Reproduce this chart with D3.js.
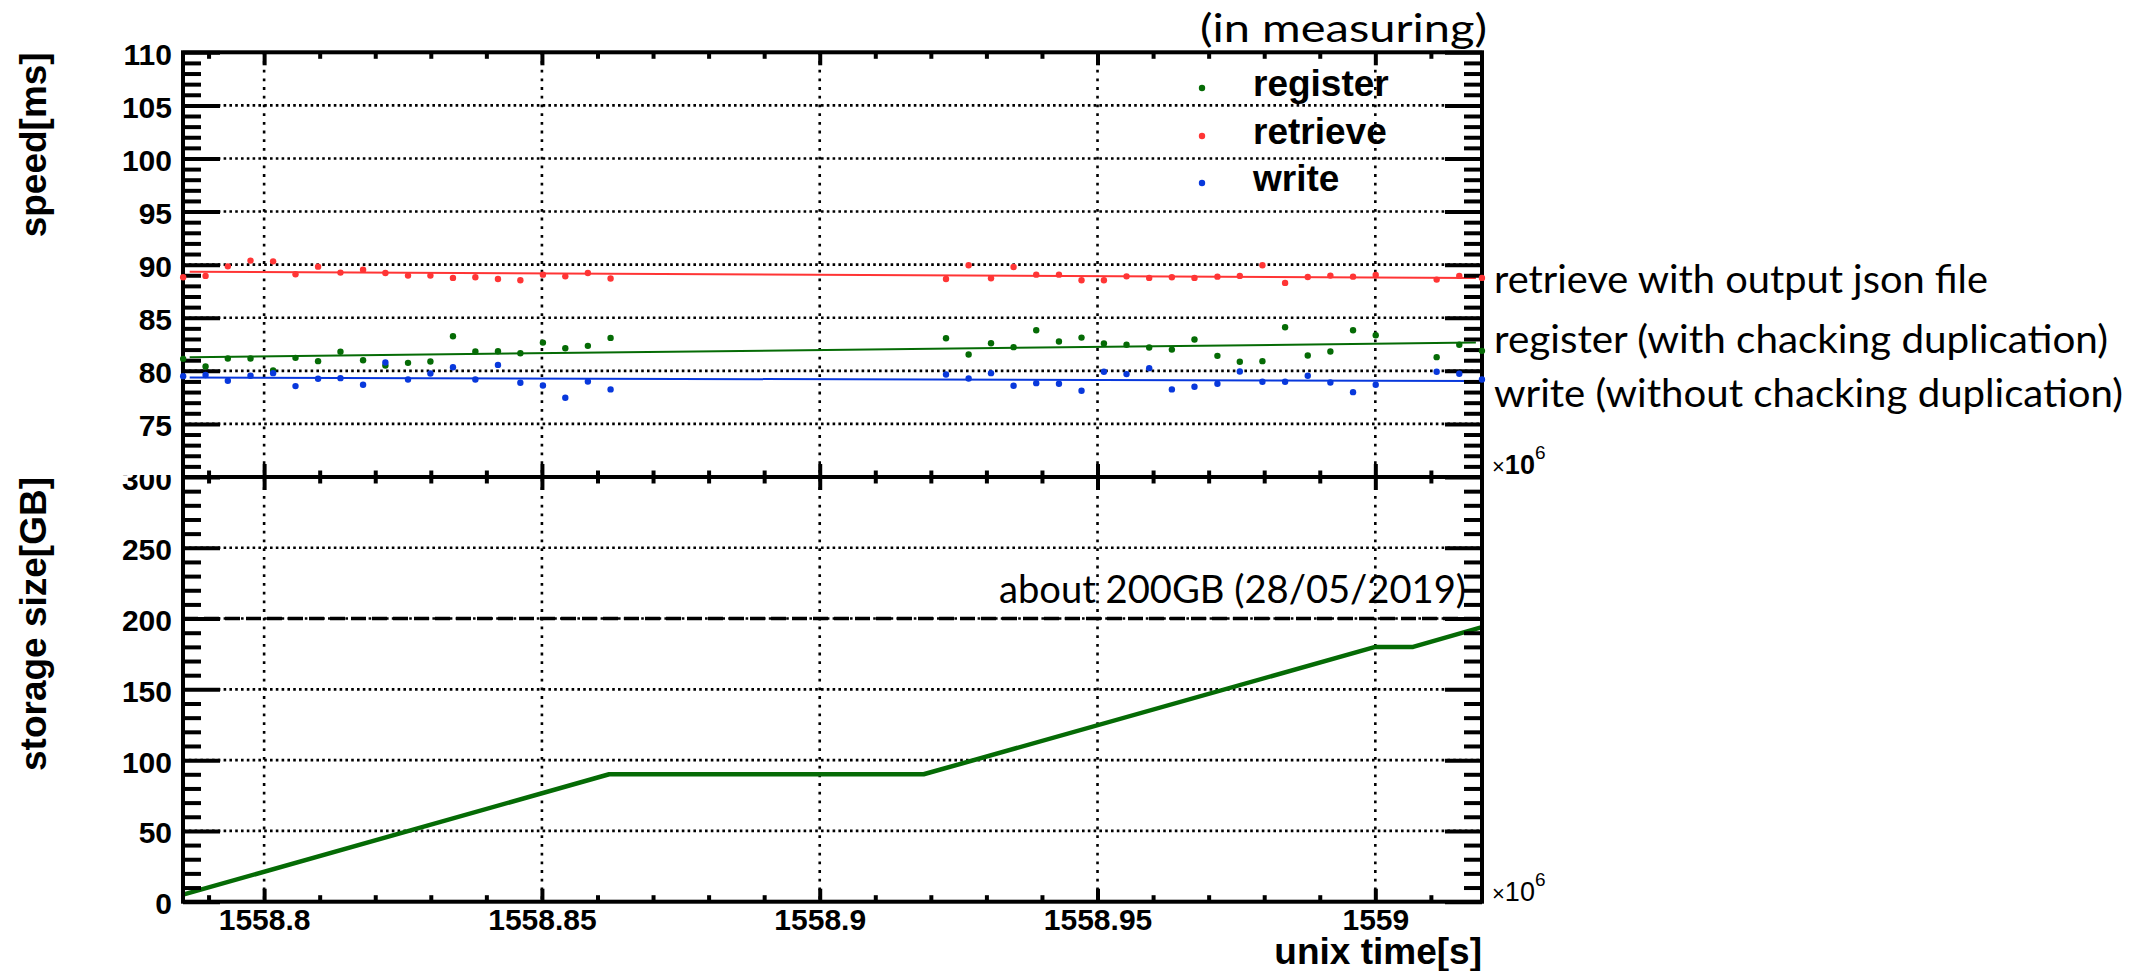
<!DOCTYPE html>
<html lang="en">
<head>
<meta charset="UTF-8">
<title>speed and storage size</title>
<script src="https://cdn.jsdelivr.net/npm/d3@7"></script>
<style>
    html, body {
        margin: 0;
        background: white;
    }
    .ticklab {
        font-family: "Liberation Sans", Arial, sans-serif;
        font-weight: bold;
        font-size: 30px;
    }
    .title {
        font-family: "Liberation Sans", Arial, sans-serif;
        font-weight: bold;
        font-size: 37px;
    }
    .note {
        font-family: Lato, "Open Sans", sans-serif;
        font-size: 38px;
    }
</style>
</head>
<body>
<div id="chart"></div>
<script>
// measurement times (x 10^6 s)
var times = [
    1558.78543, 1558.78946, 1558.79347, 1558.79755, 1558.80162, 1558.80565, 1558.80971, 1558.81374,
    1558.81781, 1558.82183, 1558.82590, 1558.82993, 1558.83399, 1558.83802, 1558.84209, 1558.84612,
    1558.85018, 1558.85421, 1558.85827, 1558.86236,
    1558.92273, 1558.92680, 1558.93083, 1558.93489, 1558.93897, 1558.94306, 1558.94712, 1558.95115,
    1558.95522, 1558.95930, 1558.96338, 1558.96745, 1558.97158, 1558.97561, 1558.97968, 1558.98376,
    1558.98784, 1558.99191, 1558.99599, 1559.00007, 1559.01104, 1559.01511, 1559.01919
];
var registerMs = [
    81.13, 80.41, 81.16, 81.16, 80.03, 81.22, 80.91, 81.79, 81.00, 80.50,
    80.75, 80.88, 83.26, 81.82, 81.85, 81.66, 82.66, 82.13, 82.35, 83.10,
    83.07, 81.54, 82.60, 82.23, 83.82, 82.76, 83.13, 82.57, 82.45, 82.20, 82.00, 82.95,
    81.41, 80.85, 80.91, 84.11, 81.44, 81.82, 83.82, 83.35, 81.29, 82.45, 81.88
];
var retrieveMs = [
    88.81, 88.94, 89.84, 90.38, 90.31, 89.09, 89.81, 89.25, 89.53, 89.22,
    88.97, 88.97, 88.75, 88.81, 88.65, 88.53, 89.06, 88.90, 89.22, 88.69,
    88.65, 89.94, 88.72, 89.78, 89.06, 89.06, 88.53, 88.53, 88.90, 88.75, 88.81, 88.75,
    88.87, 88.94, 89.94, 88.28, 88.84, 88.97, 88.87, 89.03, 88.59, 88.94, 88.75
];
var writeMs = [
    79.50, 79.60, 79.06, 79.53, 79.78, 78.56, 79.25, 79.31, 78.69, 80.78,
    79.19, 79.75, 80.34, 79.19, 80.56, 78.87, 78.62, 77.47, 79.00, 78.25,
    79.66, 79.28, 79.78, 78.59, 78.84, 78.78, 78.12, 79.91, 79.69, 80.25, 78.25, 78.50,
    78.78, 79.94, 78.97, 78.97, 79.53, 78.90, 77.99, 78.69, 79.91, 79.72, 79.19
];

// linear fits: value at start and end of fit range
var fitRange = [1558.7866, 1559.0181];
var fitRegister = [81.29, 82.66];
var fitRetrieve = [89.34, 88.75];
var fitWrite = [79.37, 79.03];

// storage size
var storageTime = [1558.7854, 1558.8621, 1558.9187, 1559.0, 1559.0068, 1559.0192];
var storageGB = [5, 90, 90, 180, 180, 194];
var storageLimit = 200;

var xTicks = [1558.8, 1558.85, 1558.9, 1558.95, 1559];
var speedTicks = [75, 80, 85, 90, 95, 100, 105, 110];
var sizeTicks = [0, 50, 100, 150, 200, 250, 300];

var series = [
    {name: 'register', values: registerMs, fit: fitRegister, color: '#056b05'},
    {name: 'retrieve', values: retrieveMs, fit: fitRetrieve, color: '#ff3535'},
    {name: 'write', values: writeMs, fit: fitWrite, color: '#0838dc'}
];

var width = 2138, height = 971;
var left = 183, right = 1482;
var topY = 52.3, midY = 477, botY = 901.7;

var svg = d3.select('#chart').append('svg')
    .attr('width', width)
    .attr('height', height);

var x = d3.scaleLinear().domain([1558.7854, 1559.0192]).range([left, right]);
var ySpeed = d3.scaleLinear().domain([70, 110]).range([midY, topY]);
var ySize = d3.scaleLinear().domain([0, 300]).range([botY, midY]);

var minorX = d3.range(1558.79, 1559.015, 0.01).filter(function(v){
    return xTicks.every(function(t){ return Math.abs(t - v) > 1e-6; });
});
var minorSpeed = d3.range(71, 110, 1).filter(function(v){ return v % 5 !== 0; });
var minorSize = d3.range(10, 300, 10).filter(function(v){ return v % 50 !== 0; });

// the lower pad cuts the top of its "300" label
svg.append('clipPath').attr('id', 'botclip')
    .append('rect').attr('x', -left).attr('y', 475).attr('width', width).attr('height', height - 475);

// grid
var grid = svg.append('g').attr('stroke', '#000').attr('stroke-width', 2.6);
grid.selectAll('.gx').data(xTicks).enter().append('line')
    .attr('x1', function(d){ return x(d); })
    .attr('x2', function(d){ return x(d); })
    .attr('y1', topY).attr('y2', botY)
    .attr('stroke-dasharray', '2.8 5.9');
grid.selectAll('.gs').data(speedTicks.slice(0, -1)).enter().append('line')
    .attr('x1', left).attr('x2', right)
    .attr('y1', function(d){ return ySpeed(d); })
    .attr('y2', function(d){ return ySpeed(d); })
    .attr('stroke-dasharray', '2.6 3.2');
grid.selectAll('.gb').data(sizeTicks.slice(1, -1)).enter().append('line')
    .attr('x1', left).attr('x2', right)
    .attr('y1', function(d){ return ySize(d); })
    .attr('y2', function(d){ return ySize(d); })
    .attr('stroke-dasharray', '2.6 3.2');

// 200GB line
svg.append('line')
    .attr('x1', left).attr('x2', right)
    .attr('y1', ySize(storageLimit)).attr('y2', ySize(storageLimit))
    .attr('stroke', '#000').attr('stroke-width', 3.5)
    .attr('stroke-dasharray', '15 6');

svg.append('text').attr('class', 'note')
    .attr('x', 999).attr('y', 603)
    .attr('font-size', 36)
    .attr('textLength', 467).attr('lengthAdjust', 'spacingAndGlyphs')
    .text('about 200GB (28/05/2019)');

// storage line
var storagePts = storageTime.map(function(t, i){ return [t, storageGB[i]]; });
svg.append('path')
    .datum(storagePts)
    .attr('fill', 'none')
    .attr('stroke', '#056b05')
    .attr('stroke-width', 4.5)
    .attr('stroke-linejoin', 'round')
    .attr('d', d3.line()
        .x(function(d){ return x(d[0]); })
        .y(function(d){ return ySize(d[1]); }));

// fit lines
series.forEach(function(s){
    svg.append('path')
        .datum([[fitRange[0], s.fit[0]], [fitRange[1], s.fit[1]]])
        .attr('fill', 'none')
        .attr('stroke', s.color)
        .attr('stroke-width', 2)
        .attr('d', d3.line()
            .x(function(d){ return x(d[0]); })
            .y(function(d){ return ySpeed(d[1]); }));
});

// axes
function styleAxis(g, w) {
    g.select('.domain').remove();
    g.selectAll('.tick line').attr('stroke', '#000').attr('stroke-width', w);
    g.selectAll('.tick text').attr('class', 'ticklab').attr('fill', '#000');
}

function addAxis(axis, tx, ty, w, clip) {
    var g = svg.append('g').attr('transform', 'translate(' + tx + ',' + ty + ')');
    if (clip) g.attr('clip-path', 'url(#botclip)');
    g.call(axis);
    styleAxis(g, w);
    return g;
}

var noLabel = function(){ return ''; };

// x axes, major + minor, on both panels
[[topY, 'top'], [midY, 'bottom'], [midY, 'top'], [botY, 'bottom']].forEach(function(p, i){
    var maker = p[1] === 'top' ? d3.axisTop : d3.axisBottom;
    addAxis(maker(x).tickValues(xTicks).tickSize(-13).tickSizeOuter(0)
        .tickFormat(i === 3 ? function(d){ return String(+d.toFixed(2)); } : noLabel)
        .tickPadding(7), 0, p[0], 4);
    addAxis(maker(x).tickValues(minorX).tickSize(-6.5).tickSizeOuter(0).tickFormat(noLabel), 0, p[0], 4);
});

// y axes of speed panel
addAxis(d3.axisLeft(ySpeed).tickValues(speedTicks).tickSize(-37).tickSizeOuter(0).tickPadding(11), left, 0, 4);
addAxis(d3.axisLeft(ySpeed).tickValues(minorSpeed).tickSize(-18).tickSizeOuter(0).tickFormat(noLabel), left, 0, 4);
addAxis(d3.axisRight(ySpeed).tickValues(speedTicks).tickSize(-37).tickSizeOuter(0).tickFormat(noLabel), right, 0, 4);
addAxis(d3.axisRight(ySpeed).tickValues(minorSpeed).tickSize(-18).tickSizeOuter(0).tickFormat(noLabel), right, 0, 4);

// y axes of size panel
addAxis(d3.axisLeft(ySize).tickValues(sizeTicks).tickSize(-37).tickSizeOuter(0).tickPadding(11), left, 0, 4, true);
addAxis(d3.axisLeft(ySize).tickValues(minorSize).tickSize(-18).tickSizeOuter(0).tickFormat(noLabel), left, 0, 4);
addAxis(d3.axisRight(ySize).tickValues(sizeTicks).tickSize(-37).tickSizeOuter(0).tickFormat(noLabel), right, 0, 4);
addAxis(d3.axisRight(ySize).tickValues(minorSize).tickSize(-18).tickSizeOuter(0).tickFormat(noLabel), right, 0, 4);

svg.selectAll('.ticklab').filter(function(){ return this.getAttribute('dy') === '0.32em'; })
    .attr('dy', '0.4em');

// frames
svg.append('rect')
    .attr('x', left).attr('y', topY)
    .attr('width', right - left).attr('height', botY - topY)
    .attr('fill', 'none').attr('stroke', '#000').attr('stroke-width', 4);
svg.append('line')
    .attr('x1', left).attr('x2', right).attr('y1', midY).attr('y2', midY)
    .attr('stroke', '#000').attr('stroke-width', 4);

// points
series.forEach(function(s){
    svg.append('g').selectAll('circle')
        .data(times.map(function(t, i){ return [t, s.values[i]]; }))
        .enter().append('circle')
        .attr('cx', function(d){ return x(d[0]); })
        .attr('cy', function(d){ return ySpeed(d[1]); })
        .attr('r', 3.2)
        .attr('fill', s.color);
});

// legend
var legend = svg.append('g');
series.forEach(function(s, i){
    var yy = [88, 136, 183][i];
    legend.append('circle').attr('cx', 1202).attr('cy', yy).attr('r', 3.2).attr('fill', s.color);
    legend.append('text').attr('class', 'title')
        .attr('x', 1253).attr('y', yy + 8)
        .attr('font-size', 34)
        .text(s.name);
});

// axis titles
svg.append('text').attr('class', 'title')
    .attr('transform', 'translate(46,' + topY + ')rotate(-90)')
    .attr('text-anchor', 'end')
    .text('speed[ms]');
svg.append('text').attr('class', 'title')
    .attr('transform', 'translate(46,' + midY + ')rotate(-90)')
    .attr('text-anchor', 'end')
    .text('storage size[GB]');
svg.append('text').attr('class', 'title')
    .attr('x', right).attr('y', 964)
    .attr('text-anchor', 'end')
    .text('unix time[s]');

// exponent labels
function expLabel(yy, boldTen) {
    var t = svg.append('text').attr('x', 1492).attr('y', yy)
        .attr('font-family', '"Liberation Sans", Arial, sans-serif');
    t.append('tspan').attr('font-size', 22).text('\u00d7');
    t.append('tspan').attr('font-size', 27).attr('font-weight', boldTen ? 'bold' : 'normal').text('10');
    t.append('tspan').attr('font-size', 19).attr('dy', -15).text('6');
}
expLabel(474, true);
expLabel(901, false);

// notes
var notes = [
    ['(in measuring)', 1200, 42, 287],
    ['retrieve with output json file', 1494, 293, 494],
    ['register (with chacking duplication)', 1494, 353, 614],
    ['write (without chacking duplication)', 1494, 407, 629]
];
notes.forEach(function(n){
    svg.append('text').attr('class', 'note')
        .attr('x', n[1]).attr('y', n[2])
        .attr('textLength', n[3]).attr('lengthAdjust', 'spacingAndGlyphs')
        .text(n[0]);
});
</script>
</body>
</html>
